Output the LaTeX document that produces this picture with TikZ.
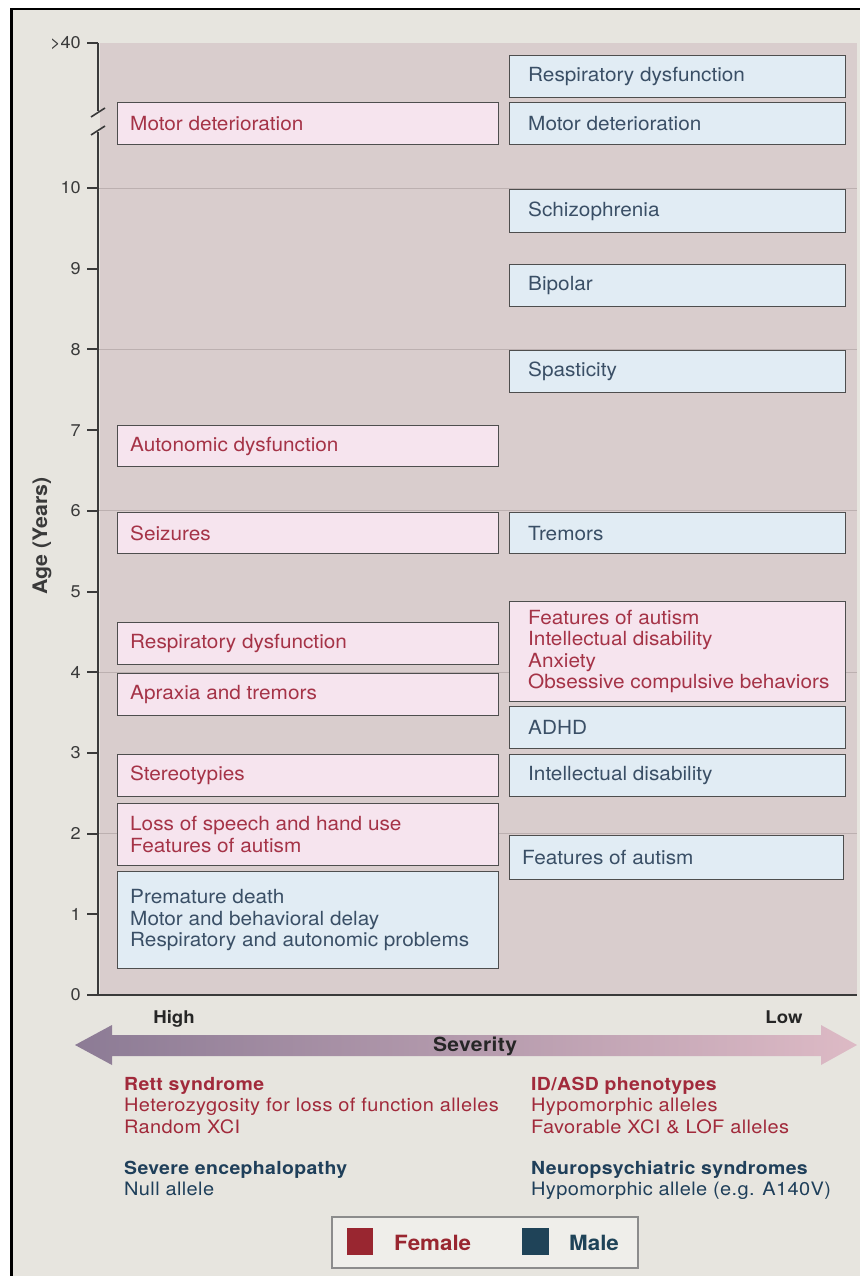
\documentclass[tikz,border=0pt]{standalone}
\usepackage{fontspec}
\setmainfont{TeX Gyre Heros}[FakeStretch=1.065]
\newfontfamily\bottomfont{TeX Gyre Heros}[FakeStretch=1.08,LetterSpace=2]
\definecolor{outerbg}{HTML}{E7E5DF}
\definecolor{plotbg}{HTML}{D9CDCD}
\definecolor{gridc}{HTML}{BCB0B0}
\definecolor{axisc}{HTML}{3A3A3A}
\definecolor{pinkfill}{HTML}{F6E4EE}
\definecolor{bluefill}{HTML}{E1ECF4}
\definecolor{boxline}{HTML}{4E4E4E}
\definecolor{redtxt}{HTML}{A53347}
\definecolor{bluetxt}{HTML}{3A4F66}
\definecolor{redhead}{HTML}{A12A3B}
\definecolor{bluehead}{HTML}{1F3F5A}
\definecolor{femalec}{HTML}{992630}
\definecolor{malec}{HTML}{1F4358}
\definecolor{arrowL}{HTML}{8C7B95}
\definecolor{arrowM}{HTML}{BCA5B3}
\definecolor{arrowR}{HTML}{DDBAC5}
\definecolor{legfill}{HTML}{EFEEEA}
\newcommand\mkbox[8]{%
  \node[#2, minimum width=#5pt, minimum height=#6pt, anchor=north west] (#1) at (#3,#4) {};
  \node[#2text, anchor=west] (#1t) at ([xshift=#7pt]#1.west) {#8};}
\begin{document}
\begin{tikzpicture}[x=1pt,y=-1pt,
  fbox/.style={draw=boxline, line width=1.2pt, fill=pinkfill, inner sep=0pt},
  mbox/.style={draw=boxline, line width=1.2pt, fill=bluefill, inner sep=0pt},
  fboxtext/.style={inner sep=0pt, align=left, text=redtxt, font=\fontsize{19.5}{21.5}\selectfont},
  mboxtext/.style={inner sep=0pt, align=left, text=bluetxt, font=\fontsize{19.5}{21.5}\selectfont},
  ticklab/.style={anchor=east, inner sep=0pt, text=axisc, font=\fontsize{17}{17}\selectfont},
  btext/.style={anchor=base west, inner sep=0pt, font=\bottomfont\fontsize{18.5}{21}\selectfont},
  bhead/.style={anchor=base west, inner sep=0pt, font=\bottomfont\bfseries\fontsize{18}{21}\selectfont}]
\useasboundingbox (0,0) rectangle (860,1276);
% background and frame
\fill[white] (0,0) rectangle (860,1276);
\fill[outerbg] (12,9) rectangle (860,1276);
\draw[black, line width=2.5pt] (11.5,1276) -- (11.5,9) -- (860,9);
% plot area
\fill[plotbg] (100,43) rectangle (857,995);
% gridlines at even years
\foreach \v in {2,4,6,8,10} {
  \draw[gridc, line width=0.9pt] (98,{995-80.7*\v}) -- (857,{995-80.7*\v});
}
% axis
\draw[axisc, line width=2pt] (98,43) -- (98,111);
\draw[axisc, line width=2pt] (98,132) -- (98,995);
\draw[axisc, line width=1.6pt] (91,117) -- (105,108);
\draw[axisc, line width=1.6pt] (91,135) -- (105,126);
\draw[axisc, line width=2.5pt] (87,995) -- (857,995);
\draw[axisc, line width=2pt] (87,43) -- (98,43);
\node[ticklab] (t40) at (81,43) {>40};
\foreach \v in {0,...,10} {
  \draw[axisc, line width=2pt] (87,{995-80.7*\v}) -- (98,{995-80.7*\v});
  \node[ticklab] (t\v) at (81,{995-80.7*\v}) {\v};
}
\node[rotate=90, inner sep=0pt, text=axisc, font=\bfseries\fontsize{20}{20}\selectfont] (agelab) at (42,536) {Age (Years)};
% left column boxes
\mkbox{L1}{fbox}{117}{102}{381}{42}{13}{Motor deterioration}
\mkbox{L2}{fbox}{117}{425}{381}{41}{13}{Autonomic dysfunction}
\mkbox{L3}{fbox}{117}{512}{381}{41}{13}{Seizures}
\mkbox{L4}{fbox}{117}{622}{381}{42}{13}{Respiratory dysfunction}
\mkbox{L5}{fbox}{117}{673}{381}{42}{13}{Apraxia and tremors}
\mkbox{L6}{fbox}{117}{754}{381}{42}{13}{Stereotypies}
\mkbox{L7}{fbox}{117}{803}{381}{62}{13}{Loss of speech and hand use\\Features of autism}
\mkbox{L8}{mbox}{117}{871}{381}{97}{13}{Premature death\\Motor and behavioral delay\\Respiratory and autonomic problems}
% right column boxes
\mkbox{R1}{mbox}{509}{55}{336}{42}{19}{Respiratory dysfunction}
\mkbox{R2}{mbox}{509}{102}{336}{42}{19}{Motor deterioration}
\mkbox{R3}{mbox}{509}{189}{336}{43}{19}{Schizophrenia}
\mkbox{R4}{mbox}{509}{264}{336}{42}{19}{Bipolar}
\mkbox{R5}{mbox}{509}{350}{336}{42}{19}{Spasticity}
\mkbox{R6}{mbox}{509}{512}{336}{41}{19}{Tremors}
\mkbox{R7}{fbox}{509}{601}{336}{100}{19}{Features of autism\\Intellectual disability\\Anxiety\\Obsessive compulsive behaviors}
\mkbox{R8}{mbox}{509}{706}{336}{42}{19}{ADHD}
\mkbox{R9}{mbox}{509}{754}{336}{42}{19}{Intellectual disability}
\mkbox{R10}{mbox}{509}{835}{334}{44}{13}{Features of autism}
% severity arrow
\shade[left color=arrowL, middle color=arrowM, right color=arrowR]
  (75,1045) -- (112,1025) -- (112,1035) -- (821,1035) -- (821,1025) -- (857,1045)
  -- (821,1065) -- (821,1056) -- (112,1056) -- (112,1065) -- cycle;
\node[inner sep=0pt, anchor=base, text=black!85, font=\bfseries\fontsize{17.5}{18}\selectfont] (high) at (174,1023) {High};
\node[inner sep=0pt, anchor=base, text=black!85, font=\bfseries\fontsize{17.5}{18}\selectfont] (low) at (784,1023) {Low};
\node[inner sep=0pt, anchor=base, text=black!85, font=\bottomfont\bfseries\fontsize{19.5}{20}\selectfont] (sev) at (475,1051) {Severity};
% bottom explanatory text
\node[bhead, text=redhead] (rett) at (124,1090.5) {Rett syndrome};
\node[btext, text=redhead] (rett1) at (124,1111.8) {Heterozygosity for loss of function alleles};
\node[btext, text=redhead] (rett2) at (124,1133.1) {Random XCI};
\node[bhead, text=bluehead] (sev1) at (124,1174) {Severe encephalopathy};
\node[btext, text=bluehead] (sev2) at (124,1195.3) {Null allele};
\node[bhead, text=redhead] (idasd) at (531,1090.5) {ID/ASD phenotypes};
\node[btext, text=redhead] (idasd1) at (531,1111.8) {Hypomorphic alleles};
\node[btext, text=redhead] (idasd2) at (531,1133.1) {Favorable XCI \& LOF alleles};
\node[bhead, text=bluehead] (neuro) at (531,1174) {Neuropsychiatric syndromes};
\node[btext, text=bluehead] (neuro1) at (531,1195.3) {Hypomorphic allele (e.g. A140V)};
% legend
\node[draw=black!45, line width=1.5pt, fill=legfill, minimum width=306pt, minimum height=51pt, anchor=north west, inner sep=0pt] (legend) at (331,1216) {};
\node[fill=femalec, minimum width=26pt, minimum height=27pt, anchor=north west, inner sep=0pt] (fsq) at (347,1228) {};
\node[fill=malec, minimum width=27pt, minimum height=27pt, anchor=north west, inner sep=0pt] (msq) at (522,1228) {};
\node[inner sep=0pt, anchor=west, text=femalec, font=\bfseries\fontsize{21}{21}\selectfont, text height=15pt, text depth=0pt] (flab) at (394,1243) {Female};
\node[inner sep=0pt, anchor=west, text=malec, font=\bfseries\fontsize{21}{21}\selectfont, text height=15pt, text depth=0pt] (mlab) at (569,1243) {Male};
\end{tikzpicture}
\end{document}
